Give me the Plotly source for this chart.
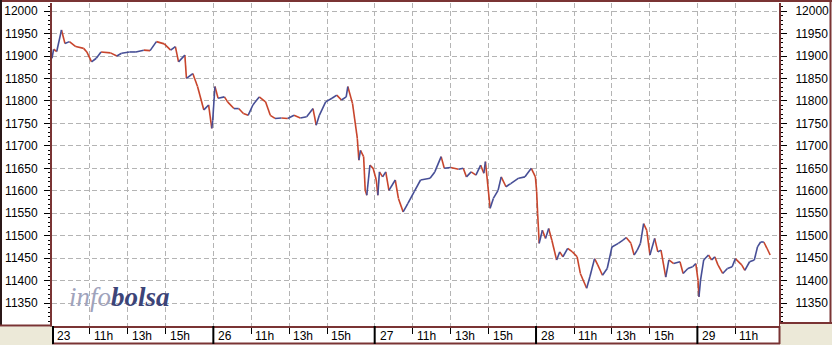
import plotly.graph_objects as go

# ---------------- data ----------------
SESSION = 510  # trading minutes per session (09:00-17:30)

day_labels = ["23", "26", "27", "28", "29"]
hour_labels = ["11h", "13h", "15h"]
hour_offsets = [120, 240, 360]          # minutes after 09:00
hours_shown = [3, 3, 3, 3, 1]           # hour ticks shown for each day

d23_t = [0, 5, 15, 30, 41, 55, 75, 100, 110, 125, 140, 155, 185, 205, 220, 245, 265, 290, 310, 330,
         355, 375, 390, 400, 420, 425, 445, 460, 480, 495, 505, 508]
d23_v = [11895, 11915, 11910, 11958, 11928, 11932, 11921, 11917, 11909, 11887, 11895, 11909, 11907, 11900,
         11906, 11909, 11909, 11913, 11912, 11932, 11927, 11913, 11921, 11887, 11902, 11850, 11861, 11832,
         11780, 11791, 11739, 11757]

d26_t = [5, 15, 35, 45, 65, 80, 95, 110, 125, 145, 165, 180, 195, 215, 235, 255, 275, 295, 315, 325,
         335, 355, 375, 390, 405, 420, 425, 440, 455, 460, 465, 475, 480, 485, 495, 505]
d26_v = [11832, 11806, 11809, 11798, 11783, 11783, 11772, 11768, 11791, 11809, 11798, 11768, 11761, 11762,
         11761, 11768, 11762, 11765, 11783, 11746, 11768, 11798, 11806, 11813, 11802, 11809, 11832, 11794,
         11717, 11668, 11690, 11676, 11601, 11590, 11657, 11650]

d27_t = [5, 10, 15, 25, 35, 45, 65, 75, 90, 105, 125, 145, 175, 190, 210, 220, 240, 265, 280, 290,
         305, 320, 335, 345, 350, 365, 375, 390, 400, 415, 430, 455, 475, 495, 508]
d27_v = [11624, 11590, 11642, 11631, 11642, 11601, 11624, 11583, 11553, 11572, 11598, 11624, 11628, 11642,
         11676, 11650, 11652, 11648, 11650, 11631, 11642, 11635, 11657, 11639, 11665, 11561, 11583, 11601,
         11631, 11609, 11616, 11628, 11631, 11650, 11631]

d28_t = [2, 5, 10, 20, 30, 40, 50, 65, 75, 85, 100, 115, 130, 140, 160, 170, 185, 195, 210, 225,
         240, 260, 275, 285, 300, 310, 320, 330, 340, 350, 360, 375, 385, 395, 410, 420, 435, 455, 465, 480,
         495, 505]
d28_v = [11598, 11550, 11483, 11512, 11494, 11516, 11490, 11446, 11464, 11453, 11472, 11464, 11453, 11416,
         11383, 11408, 11449, 11435, 11412, 11427, 11475, 11483, 11490, 11496, 11483, 11457, 11468, 11483,
         11527, 11512, 11457, 11494, 11464, 11468, 11408, 11446, 11438, 11442, 11416, 11427, 11431, 11438]

d29_t = [2, 5, 10, 20, 35, 45, 55, 65, 80, 95, 110, 120, 140, 150, 165, 180, 190, 200, 210, 220, 230]
d29_v = [11401, 11364, 11401, 11446, 11457, 11446, 11453, 11435, 11416, 11427, 11431, 11449, 11435, 11423,
         11442, 11446, 11475, 11486, 11486, 11472, 11457]

y_ticks = [11350, 11400, 11450, 11500, 11550, 11600, 11650, 11700, 11750, 11800, 11850, 11900, 11950, 12000]

# ---------------- build series ----------------
sessions = [(d23_t, d23_v), (d26_t, d26_v), (d27_t, d27_v), (d28_t, d28_v), (d29_t, d29_v)]
xs, ys = [], []
for i, (t, v) in enumerate(sessions):
    xs += [i * SESSION + m for m in t]
    ys += list(v)

up_x, up_y, dn_x, dn_y = [], [], [], []
for i in range(1, len(xs)):
    if ys[i] >= ys[i - 1]:
        up_x += [xs[i - 1], xs[i], None]
        up_y += [ys[i - 1], ys[i], None]
    else:
        dn_x += [xs[i - 1], xs[i], None]
        dn_y += [ys[i - 1], ys[i], None]

tick_vals, tick_text = [], []
for i, d in enumerate(day_labels):
    tick_vals.append(i * SESSION)
    tick_text.append(d)
    for k in range(hours_shown[i]):
        tick_vals.append(i * SESSION + hour_offsets[k])
        tick_text.append(hour_labels[k])

X_MAX = 2298
W, H = 832, 345
ML, MR, MT, MB = 52, 53, 3, 19
PW, PH = W - ML - MR, H - MT - MB


def PX(px):
    return (px - ML) / PW


def PY(py):
    return (H - MB - py) / PH


MAROON = "#7a3434"
RED = "#c8452c"
BLUE = "#464e96"

fig = go.Figure()
fig.add_trace(go.Scatter(x=dn_x, y=dn_y, mode="lines", line=dict(color=RED, width=1.6),
                         hoverinfo="skip", showlegend=False))
fig.add_trace(go.Scatter(x=up_x, y=up_y, mode="lines", line=dict(color=BLUE, width=1.6),
                         hoverinfo="skip", showlegend=False))
fig.add_trace(go.Scatter(x=xs, y=ys, mode="lines", line=dict(color="rgba(0,0,0,0)", width=0),
                         yaxis="y2", hoverinfo="skip", showlegend=False))

axis_font = dict(family="Liberation Sans, Arial, sans-serif", size=12, color="#000")
common_y = dict(range=[11299, 12018], tickvals=y_ticks, tickformat="d", ticks="outside", ticklen=6,
                tickcolor="#000", tickwidth=1, showline=True, linecolor=MAROON, linewidth=2, tickfont=axis_font,
                minor=dict(dtick=10, ticks="outside", ticklen=2, tickcolor="#000", showgrid=False),
                zeroline=False, fixedrange=True)

fig.update_layout(
    width=W, height=H,
    margin=dict(l=ML, r=MR, t=MT, b=MB, pad=0),
    paper_bgcolor="white", plot_bgcolor="white",
    xaxis=dict(range=[0, X_MAX], tickvals=tick_vals, showticklabels=False, ticks="outside",
               ticklen=6, tickcolor="#000", showgrid=True, gridcolor="#b4b4b4", griddash="5px,3px",
               gridwidth=1, showline=True, linecolor=MAROON, linewidth=2, zeroline=False),
    yaxis=dict(side="left", showgrid=True, gridcolor="#b4b4b4", griddash="5px,3px", gridwidth=1,
               ticklabelstandoff=4, **common_y),
    yaxis2=dict(side="right", overlaying="y", showgrid=False, ticklabelstandoff=6, **common_y),
    showlegend=False,
)

shapes = []
# grey corners
shapes.append(dict(type="rect", xref="paper", yref="paper", x0=PX(0), x1=PX(ML), y0=PY(H), y1=PY(H - MB + 0.5),
                   fillcolor="#ece9d8", line=dict(width=0), layer="above"))
shapes.append(dict(type="rect", xref="paper", yref="paper", x0=PX(W - MR + 1), x1=PX(W), y0=PY(H), y1=PY(323.5),
                   fillcolor="#ece9d8", line=dict(width=0), layer="above"))


def hline(py, px0, px1, color=MAROON, w=2):
    shapes.append(dict(type="line", xref="paper", yref="paper", x0=PX(px0), x1=PX(px1), y0=PY(py), y1=PY(py),
                       line=dict(color=color, width=w), layer="above"))


def vline(px, py0, py1, color=MAROON, w=2):
    shapes.append(dict(type="line", xref="paper", yref="paper", x0=PX(px), x1=PX(px), y0=PY(py0), y1=PY(py1),
                       line=dict(color=color, width=w), layer="above"))


hline(1, 0, W)                 # top border
vline(1, 0, 326, "#2b1818")    # outer left border
hline(325.5, 0, ML)            # bottom of left panel
vline(830.5, 0, 323.5)         # right border
hline(323, W - MR, W)          # bottom of right panel
hline(343.5, ML, W - MR + 1)   # bottom of label band
vline(W - MR + 0.5, 326, 344)  # right side of label band

# day separators in label band
for i in range(len(day_labels)):
    px = ML + i * SESSION * PW / X_MAX
    vline(px + (1 if i == 0 else 0), 326, 344, "#000", 2)

fig.update_layout(shapes=shapes)

annotations = []
for v, t in zip(tick_vals, tick_text):
    annotations.append(dict(x=v, xref="x", y=PY(336), yref="paper", text=t, showarrow=False,
                            xanchor="left", yanchor="middle", xshift=2 if t.endswith("h") else 3,
                            font=axis_font))
annotations.append(dict(
    x=PX(67), y=PY(297), xref="paper", yref="paper", xanchor="left", yanchor="middle", showarrow=False,
    text="<span style='color:#a0a3bc'><i>info</i></span><span style='color:#3c4478'><i><b>bolsa</b></i></span>",
    font=dict(family="Liberation Serif, DejaVu Serif, serif", size=27)))
fig.update_layout(annotations=annotations)

fig.write_html("out.html")
